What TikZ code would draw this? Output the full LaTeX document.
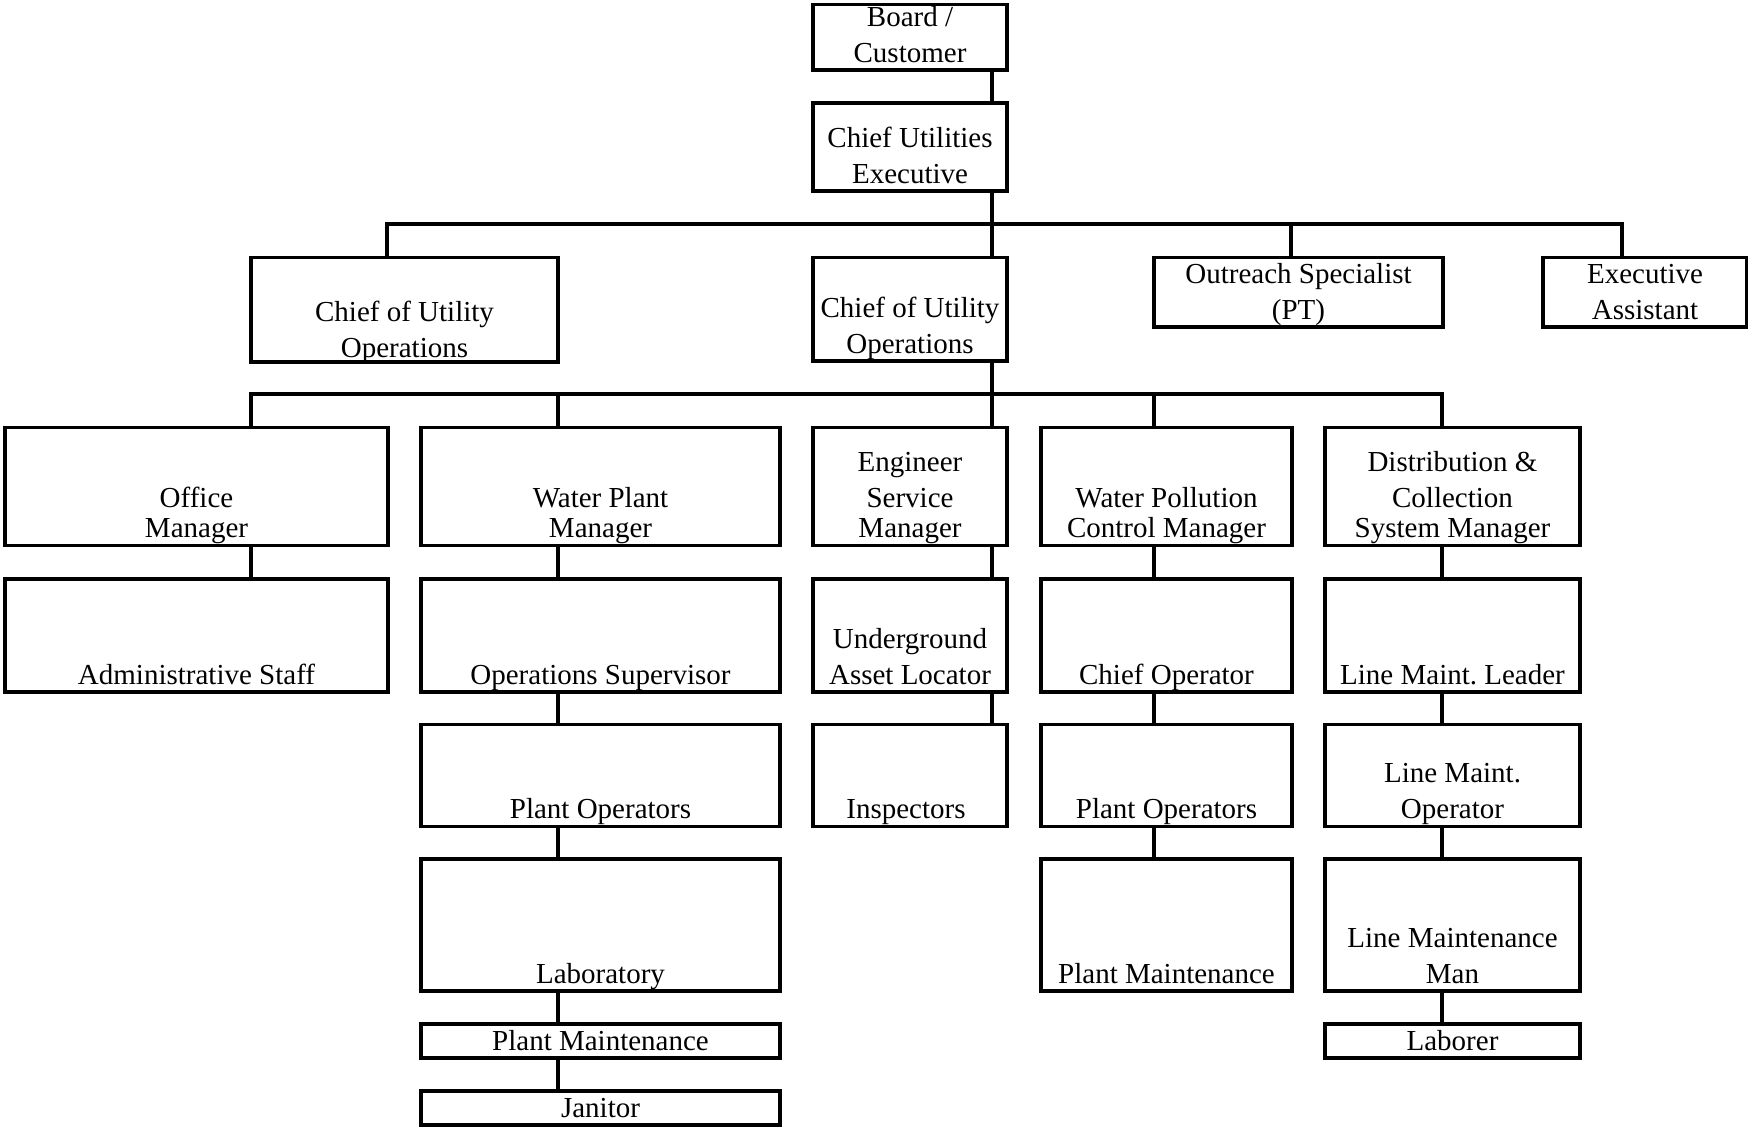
\documentclass[tikz,border=0pt]{standalone}
\usepackage{fontspec}
\setmainfont{Liberation Serif}
\usetikzlibrary{fit}

\begin{document}
\begin{tikzpicture}[x=0.5pt, y=-0.5pt,
  box/.style={draw, line width=1.65pt, inner sep=0pt},
  lbl/.style={anchor=south, align=center, inner sep=0pt, text depth=0pt, yshift=4.5pt,
    font=\fontsize{14.5pt}{18pt}\selectfont},
  link/.style={line width=1.65pt}]
\useasboundingbox (0,0) rectangle (1748,1127);
% Top of the chart
\node[box, fit={(813,4.5) (1007,70)}, label={[lbl]south:{Board /\\Customer}}] (board) {};
\node[box, fit={(813,103) (1007,191)}, label={[lbl]south:{Chief Utilities\\Executive}}] (cue) {};
% Second row
\node[box, fit={(251,257.5) (558,362)}, label={[lbl, yshift=-1.5pt]south:{Chief of Utility\\Operations}}] (ops1) {};
\node[box, fit={(813,257.5) (1007,361)}, label={[lbl]south:{Chief of Utility\\Operations}}] (ops2) {};
\node[box, fit={(1154,257.5) (1443,327)}, label={[lbl]south:{Outreach Specialist\\(PT)}}] (outreach) {};
\node[box, fit={(1543,257.5) (1747,327)}, label={[lbl]south:{Executive\\Assistant}}] (assist) {};
% Managers
\node[box, fit={(5,427.5) (388,545.5)}, label={[lbl]south:{Office\\[-3pt]Manager}}] (office) {};
\node[box, fit={(421,427.5) (780,545.5)}, label={[lbl]south:{Water Plant\\[-3pt]Manager}}] (wpm) {};
\node[box, fit={(813,427.5) (1007,545.5)}, label={[lbl]south:{Engineer\\Service\\[-3pt]Manager}}] (esm) {};
\node[box, fit={(1041,427.5) (1292,545.5)}, label={[lbl]south:{Water Pollution\\[-3pt]Control Manager}}] (wpcm) {};
\node[box, fit={(1325,427.5) (1580,545.5)}, label={[lbl]south:{Distribution \&\\Collection\\[-3pt]System Manager}}] (dcsm) {};
% Fourth row
\node[box, fit={(5,579) (388,692)}, label={[lbl]south:{Administrative Staff}}] (admin) {};
\node[box, fit={(421,579) (780,692)}, label={[lbl]south:{Operations Supervisor}}] (opsup) {};
\node[box, fit={(813,579) (1007,692)}, label={[lbl]south:{Underground\\Asset Locator}}] (locator) {};
\node[box, fit={(1041,579) (1292,692)}, label={[lbl]south:{Chief Operator}}] (chiefop) {};
\node[box, fit={(1325,579) (1580,692)}, label={[lbl]south:{Line Maint.\ Leader}}] (lmlead) {};
% Fifth row
\node[box, fit={(421,724.5) (780,826.5)}, label={[lbl]south:{Plant Operators}}] (wpops) {};
\node[box, fit={(813,724.5) (1007,826.5)}, label={[lbl, xshift=-2pt]south:{Inspectors}}] (inspect) {};
\node[box, fit={(1041,724.5) (1292,826.5)}, label={[lbl]south:{Plant Operators}}] (wpcops) {};
\node[box, fit={(1325,724.5) (1580,826.5)}, label={[lbl]south:{Line Maint.\\Operator}}] (lmop) {};
% Sixth row
\node[box, fit={(421,859) (780,991)}, label={[lbl]south:{Laboratory}}] (wplab) {};
\node[box, fit={(1041,859) (1292,991)}, label={[lbl]south:{Plant Maintenance}}] (wpcmaint) {};
\node[box, fit={(1325,859) (1580,991)}, label={[lbl]south:{Line Maintenance\\Man}}] (lmman) {};
% Bottom rows
\node[box, fit={(421,1024) (780,1058)}, label={[lbl]south:{Plant Maintenance}}] (wpmaint) {};
\node[box, fit={(1325,1024) (1580,1058)}, label={[lbl]south:{Laborer}}] (laborer) {};
\node[box, fit={(421,1091) (780,1125)}, label={[lbl]south:{Janitor}}] (janitor) {};
% Bus points
\coordinate (b1left) at (387,224);
\coordinate (b1mid) at (992,224);
\coordinate (b1out) at (1291,224);
\coordinate (b1asst) at (1622,224);
\coordinate (b2off) at (251,394);
\coordinate (b2wp) at (558,394);
\coordinate (b2eng) at (992,394);
\coordinate (b2wpc) at (1154,394);
\coordinate (b2dist) at (1442,394);
% Spine
\draw[link] (board.south -| b1mid) -- (cue.north -| b1mid);
\draw[link] (cue.south -| b1mid) -- (ops2.north -| b1mid);
\draw[link] (ops2.south -| b2eng) -- (esm.north -| b2eng);
% First bus
\draw[link] (ops1.north -| b1left) -- (b1left) -- (b1asst) -- (assist.north -| b1asst);
\draw[link] (b1out) -- (outreach.north -| b1out);
% Second bus
\draw[link] (office.north -| b2off) -- (b2off) -- (b2dist) -- (dcsm.north -| b2dist);
\draw[link] (b2wp) -- (wpm.north -| b2wp);
\draw[link] (b2wpc) -- (wpcm.north -| b2wpc);
% Office column
\draw[link] (office.south -| b2off) -- (admin.north -| b2off);
% Water plant column
\draw[link] (wpm.south -| b2wp) -- (opsup.north -| b2wp);
\draw[link] (opsup.south -| b2wp) -- (wpops.north -| b2wp);
\draw[link] (wpops.south -| b2wp) -- (wplab.north -| b2wp);
\draw[link] (wplab.south -| b2wp) -- (wpmaint.north -| b2wp);
\draw[link] (wpmaint.south -| b2wp) -- (janitor.north -| b2wp);
% Engineering column
\draw[link] (esm.south -| b2eng) -- (locator.north -| b2eng);
\draw[link] (locator.south -| b2eng) -- (inspect.north -| b2eng);
% Water pollution column
\draw[link] (wpcm.south -| b2wpc) -- (chiefop.north -| b2wpc);
\draw[link] (chiefop.south -| b2wpc) -- (wpcops.north -| b2wpc);
\draw[link] (wpcops.south -| b2wpc) -- (wpcmaint.north -| b2wpc);
% Distribution column
\draw[link] (dcsm.south -| b2dist) -- (lmlead.north -| b2dist);
\draw[link] (lmlead.south -| b2dist) -- (lmop.north -| b2dist);
\draw[link] (lmop.south -| b2dist) -- (lmman.north -| b2dist);
\draw[link] (lmman.south -| b2dist) -- (laborer.north -| b2dist);
\end{tikzpicture}
\end{document}
